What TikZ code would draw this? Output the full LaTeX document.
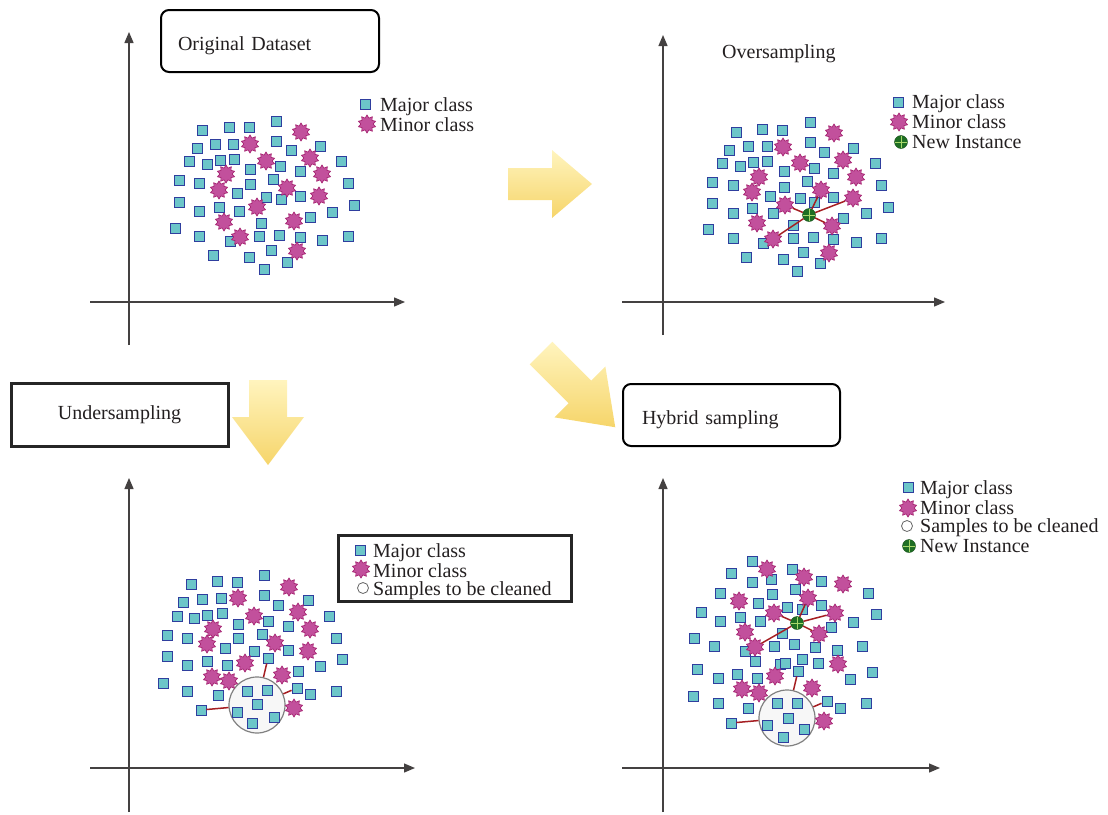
\documentclass[tikz,border=0pt]{standalone}
\usepackage{fontspec}
\setmainfont{Liberation Serif}
\usetikzlibrary{arrows.meta,shapes.geometric,positioning}
\definecolor{majfill}{HTML}{6CC6C9}
\definecolor{majedge}{HTML}{2F3E9E}
\definecolor{minfill}{HTML}{C2509C}
\definecolor{minedge}{HTML}{A3206E}
\definecolor{newfill}{HTML}{1F6F24}
\definecolor{newline}{HTML}{A8D86A}
\definecolor{linkred}{HTML}{A51E22}
\definecolor{arrowlight}{HTML}{FFF4BE}
\definecolor{arrowdark}{HTML}{F6D56A}
\definecolor{inkgray}{HTML}{231F20}

\begin{document}
\begin{tikzpicture}[x=1pt,y=-1pt,
		major/.style={rectangle,draw=majedge,fill=majfill,line width=0.9pt,minimum size=10pt,inner sep=0pt},
		minor/.style={star,star points=10,star point ratio=1.45,draw=minedge,fill=minfill,line width=0.6pt,minimum size=18pt,inner sep=0pt},
		newinst/.style={circle,fill=newfill,draw=newfill!70!black,minimum size=13pt,inner sep=0pt,
			path picture={\draw[newline,line width=1pt] (path picture bounding box.north) -- (path picture bounding box.south)
				(path picture bounding box.west) -- (path picture bounding box.east);}},
		clean/.style={circle,draw=gray,fill=gray!6,line width=1.2pt,minimum size=56pt,inner sep=0pt},
		smallclean/.style={circle,draw=gray!80!black,fill=white,line width=0.8pt,minimum size=11pt,inner sep=0pt},
		link/.style={linkred,line width=1.5pt},
		axis/.style={draw=inkgray!85,line width=1.3pt,-{Triangle[length=11pt,width=9pt]}},
		legend/.style={anchor=base west,inner sep=0pt,text=inkgray,font=\fontsize{20}{20}\selectfont},
		title/.style={text=inkgray,font=\fontsize{20}{20}\selectfont},
		roundbox/.style={draw=black,line width=2pt,rounded corners=8pt,minimum height=62pt,align=left,
			text height=18pt,text depth=0pt},
		sharpbox/.style={draw=black!85,line width=3pt},
		bigarrow/.style={top color=arrowlight,bottom color=arrowdark,draw=none}]

	\useasboundingbox (0,0) rectangle (1108,814);

	% block arrows between the panels
	\shade[bigarrow,shift={(508,184)}] (0,-16) -- (44,-16) -- (44,-34) -- (84,0) -- (44,34) -- (44,16) -- (0,16) -- cycle;
	\shade[bigarrow,shift={(268,380)},rotate=-90] (0,-19) -- (37,-19) -- (37,-36) -- (85,0) -- (37,36) -- (37,19) -- (0,19) -- cycle;
	\shade[bigarrow,shift={(541,353)},rotate=-45] (0,-16) -- (55,-16) -- (55,-36) -- (105,0) -- (55,36) -- (55,16) -- (0,16) -- cycle;

	% axes
	\coordinate (ax1o) at (129,345); \coordinate (ax1t) at (129,32);
	\coordinate (ax1l) at (90,302);  \coordinate (ax1r) at (405,302);
	\coordinate (ax2o) at (663,335); \coordinate (ax2t) at (663,35);
	\coordinate (ax2l) at (622,302); \coordinate (ax2r) at (945,302);
	\coordinate (ax3o) at (129,812); \coordinate (ax3t) at (129,478);
	\coordinate (ax3l) at (90,768);  \coordinate (ax3r) at (415,768);
	\coordinate (ax4o) at (663,812); \coordinate (ax4t) at (663,478);
	\coordinate (ax4l) at (622,768); \coordinate (ax4r) at (940,768);
	\foreach \k in {1,2,3,4} {
		\draw[axis] (ax\k o) -- (ax\k t);
		\draw[axis] (ax\k l) -- (ax\k r);
	}

	% titles
	\node[roundbox,title,text width=184pt,inner xsep=17pt] (orig) at (270,41) {Original Dataset};
	\node[title,anchor=base west,inner sep=0pt] (over) at (722,58) {Oversampling};
	\node[sharpbox,title,minimum width=217pt,minimum height=63pt] (under) at (119.5,414.5) {Undersampling};
	\node[roundbox,title,text width=179pt,inner xsep=19pt] (hybrid) at (731.5,415) {Hybrid sampling};

	% original dataset
	\foreach \x/\y [count=\i] in {202/130,229/127,249/127,276/121,197/148,215/144,233/144,276/141,291/150,320/146,
		189/161,207/164,220/160,234/159,250/169,280/166,300/171,341/161,179/180,199/183,250/184,273/179,348/183,
		179/202,237/193,266/197,281/199,300/196,354/205,199/211,219/207,239/211,310/217,332/212,175/228,199/236,
		261/223,230/241,259/236,279/235,300/237,322/240,348/236,213/255,249/257,271/250,287/262,264/269}
		\node[major] (p1a\i) at (\x,\y) {};
	\foreach \x/\y [count=\i] in {301/132,250/144,266/161,310/158,226/174,322/174,219/190,287/188,319/196,
		257/207,224/222,294/221,240/237,297/251}
		\node[minor] (p1b\i) at (\x,\y) {};
	\node[major] (lg1a) at (365,104) {};
	\node[minor] (lg1b) at (367,124) {};
	\node[legend] at (380,111) {Major class};
	\node[legend] at (380,131) {Minor class};

	% oversampling
	\foreach \x/\y [count=\i] in {736/132,762/129,782/130,810/122,729/150,748/146,767/146,810/142,824/152,853/148,
		722/163,740/166,753/162,767/161,784/171,814/168,833/173,875/163,712/182,733/185,784/187,807/181,881/185,
		712/203,770/196,800/198,814/202,833/197,888/207,733/213,752/208,773/213,843/218,866/213,708/229,733/238,
		793/225,763/243,793/238,813/237,833/239,856/242,881/238,746/257,783/259,803/252,820/263,797/271}
		\node[major] (p2a\i) at (\x,\y) {};
	\foreach \x/\y [count=\i] in {834/133,783/147,800/163,843/160,759/177,856/177,752/192,757/223,829/253}
		\node[minor] (p2b\i) at (\x,\y) {};
	\node[newinst] (new2) at (809,215) {};
	\foreach \x/\y [count=\i] in {785/205,821/190,853/198,832/226,773/239} {
		\node[minor] (os\i) at (\x,\y) {};
		\draw[link] (new2) -- (os\i);
	}
	\node[major] (lg2a) at (898,102) {};
	\node[minor] (lg2b) at (899,122) {};
	\node[newinst] (lg2c) at (901,142) {};
	\node[legend] at (912,108) {Major class};
	\node[legend] at (912,128) {Minor class};
	\node[legend] at (912,148) {New Instance};

	% undersampling
	\node[clean] (cut3) at (257,705) {};
	\foreach \x/\y [count=\i] in {191/584,217/581,237/582,264/575,183/602,202/599,221/598,264/595,278/605,308/600,
		177/616,194/618,207/615,222/613,238/624,268/621,288/626,329/616,167/635,187/638,238/638,262/634,336/638,
		167/656,225/648,254/651,288/650,342/659,187/665,207/661,227/665,298/671,320/666,163/683,187/691,218/695,
		310/694,336/691,247/691,267/690,237/712,257/704,252/723,274/717}
		\node[major] (p3a\i) at (\x,\y) {};
	\foreach \x/\y [count=\i] in {289/587,238/598,254/616,298/612,213/629,310/629,275/643,207/644,308/651,
		245/663,212/677,229/681,282/675,294/708}
		\node[minor] (p3b\i) at (\x,\y) {};
	\foreach \x/\y [count=\i] in {268/658,201/710,297/688} {
		\node[major] (us\i) at (\x,\y) {};
		\draw[link] (cut3) -- (us\i);
	}
	\node[sharpbox,minimum width=233pt,minimum height=66pt] (lg3) at (454.5,568) {};
	\node[major] (lg3a) at (360,550) {};
	\node[minor] (lg3b) at (361,569) {};
	\node[smallclean] (lg3c) at (363,588) {};
	\node[legend] at (373,557) {Major class};
	\node[legend] at (373,577) {Minor class};
	\node[legend] at (373,595) {Samples to be cleaned};

	% hybrid sampling
	\node[clean] (cut4) at (787,718) {};
	\foreach \x/\y [count=\i] in {752/561,731/573,792/569,771/579,752/582,821/581,720/593,772/594,795/589,868/593,
		701/612,720/621,740/617,758/603,760/621,787/607,802/609,821/605,853/622,876/614,694/638,714/646,782/633,
		831/627,745/651,774/646,794/644,815/647,837/650,862/646,755/661,780/664,785/663,802/659,818/663,697/669,
		718/678,737/674,757/678,850/679,872/672,693/696,718/703,748/708,840/708,866/703,
		777/703,797/703,767/725,788/718,804/729,783/737}
		\node[major] (p4a\i) at (\x,\y) {};
	\foreach \x/\y [count=\i] in {767/569,804/577,843/584,739/601,745/632,838/664,775/676,742/689,759/693,
		812/688,824/721}
		\node[minor] (p4b\i) at (\x,\y) {};
	\node[newinst] (new4) at (797,623) {};
	\foreach \x/\y [count=\i] in {808/598,835/613,819/634,755/647,774/613} {
		\node[minor] (hs\i) at (\x,\y) {};
		\draw[link] (new4) -- (hs\i);
	}
	\foreach \x/\y [count=\i] in {798/671,731/723,827/701} {
		\node[major] (hc\i) at (\x,\y) {};
		\draw[link] (cut4) -- (hc\i);
	}
	\node[major] (lg4a) at (908,487) {};
	\node[minor] (lg4b) at (908,508) {};
	\node[smallclean] (lg4c) at (907,526) {};
	\node[newinst] (lg4d) at (909,546) {};
	\node[legend] at (920,494) {Major class};
	\node[legend] at (920,514) {Minor class};
	\node[legend] at (920,532) {Samples to be cleaned};
	\node[legend] at (920,552) {New Instance};
\end{tikzpicture}
\end{document}
